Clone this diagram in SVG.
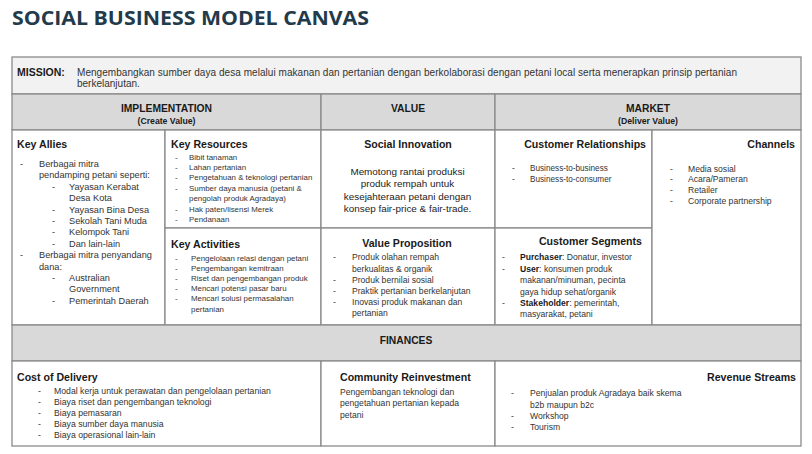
<svg xmlns="http://www.w3.org/2000/svg" width="812" height="454" viewBox="0 0 812 454">
<style>
text{font-family:'Liberation Sans',Arial,sans-serif;fill:#333}
.title{font-family:'Open Sans','Liberation Sans',sans-serif;font-weight:bold;font-size:20px;fill:#233a4b}
.cell{fill:#fff;stroke:#8a8a8a;stroke-width:1.3}
.grey{fill:#d9d9d9}
.light{fill:#f2f2f2}
.h{font-weight:bold;font-size:10.6px;fill:#1a1a1a}
.hd{font-weight:bold;font-size:10.3px;fill:#1a1a1a}
.sub{font-weight:bold;font-size:8.7px;fill:#1a1a1a}
.m{font-size:10px}
.mb{font-weight:bold;font-size:10.5px;fill:#1a1a1a}
.c{text-anchor:middle}
.e{text-anchor:end}
.ka{font-size:9.2px}
.kr{font-size:7.9px}
.si{font-size:9.9px;fill:#222}
.vp{font-size:8.6px}
.sm{font-size:8.2px}
.bt{font-size:8.7px}
</style>
<text class="title" x="12" y="25" textLength="357" lengthAdjust="spacingAndGlyphs">SOCIAL BUSINESS MODEL CANVAS</text>

<g id="mission">
<rect class="cell light" x="12" y="57" width="789" height="37"/>
<text class="mb" x="17" y="76">MISSION:</text>
<text class="m" x="77" y="75.5" textLength="660">Mengembangkan sumber daya desa melalui makanan dan pertanian dengan berkolaborasi dengan petani local serta menerapkan prinsip pertanian</text>
<text class="m" x="77" y="87">berkelanjutan.</text>
</g>

<g id="header-implementation">
<rect class="cell grey" x="12" y="94" width="309" height="36"/>
<text class="hd c" x="166.5" y="111.7">IMPLEMENTATION</text>
<text class="sub c" x="166.5" y="124">(Create Value)</text>
</g>
<g id="header-value">
<rect class="cell grey" x="321" y="94" width="174" height="36"/>
<text class="hd c" x="408" y="111.7">VALUE</text>
</g>
<g id="header-market">
<rect class="cell grey" x="495" y="94" width="306" height="36"/>
<text class="hd c" x="648" y="111.7">MARKET</text>
<text class="sub c" x="648" y="124">(Deliver Value)</text>
</g>

<g id="key-allies">
<rect class="cell" x="12" y="130" width="153" height="195"/>
<text class="h" x="17" y="148">Key Allies</text>
<text class="ka" x="20" y="167">-</text><text class="ka" x="39" y="167">Berbagai mitra</text>
<text class="ka" x="39" y="178.4">pendamping petani seperti:</text>
<text class="ka" x="52" y="189.8">-</text><text class="ka" x="69" y="189.8">Yayasan Kerabat</text>
<text class="ka" x="69" y="201.2">Desa Kota</text>
<text class="ka" x="52" y="212.6">-</text><text class="ka" x="69" y="212.6">Yayasan Bina Desa</text>
<text class="ka" x="52" y="224">-</text><text class="ka" x="69" y="224">Sekolah Tani Muda</text>
<text class="ka" x="52" y="235.4">-</text><text class="ka" x="69" y="235.4">Kelompok Tani</text>
<text class="ka" x="52" y="246.8">-</text><text class="ka" x="69" y="246.8">Dan lain-lain</text>
<text class="ka" x="20" y="258.2">-</text><text class="ka" x="39" y="258.2">Berbagai mitra penyandang</text>
<text class="ka" x="39" y="269.6">dana:</text>
<text class="ka" x="52" y="281">-</text><text class="ka" x="69" y="281">Australian</text>
<text class="ka" x="69" y="292.4">Government</text>
<text class="ka" x="52" y="303.8">-</text><text class="ka" x="69" y="303.8">Pemerintah Daerah</text>
</g>

<g id="key-resources">
<rect class="cell" x="165" y="130" width="156" height="98"/>
<text class="h" x="171" y="148">Key Resources</text>
<text class="kr" x="175" y="159.5">-</text><text class="kr" x="189" y="159.5">Bibit tanaman</text>
<text class="kr" x="175" y="170">-</text><text class="kr" x="189" y="170">Lahan pertanian</text>
<text class="kr" x="175" y="180.4">-</text><text class="kr" x="189" y="180.4">Pengetahuan &amp; teknologi pertanian</text>
<text class="kr" x="175" y="190.9">-</text><text class="kr" x="189" y="190.9">Sumber daya manusia (petani &amp;</text>
<text class="kr" x="189" y="201.3">pengolah produk Agradaya)</text>
<text class="kr" x="175" y="211.8">-</text><text class="kr" x="189" y="211.8">Hak paten/lisensi Merek</text>
<text class="kr" x="175" y="222.2">-</text><text class="kr" x="189" y="222.2">Pendanaan</text>
</g>

<g id="key-activities">
<rect class="cell" x="165" y="228" width="156" height="97"/>
<text class="h" x="171" y="248">Key Activities</text>
<text class="kr" x="175" y="261">-</text><text class="kr" x="191" y="261">Pengelolaan relasi dengan petani</text>
<text class="kr" x="175" y="271.1">-</text><text class="kr" x="191" y="271.1">Pengembangan kemitraan</text>
<text class="kr" x="175" y="281.2">-</text><text class="kr" x="191" y="281.2">Riset dan pengembangan produk</text>
<text class="kr" x="175" y="291.3">-</text><text class="kr" x="191" y="291.3">Mencari potensi pasar baru</text>
<text class="kr" x="175" y="301.4">-</text><text class="kr" x="191" y="301.4">Mencari solusi permasalahan</text>
<text class="kr" x="191" y="311.5">pertanian</text>
</g>

<g id="social-innovation">
<rect class="cell" x="321" y="130" width="174" height="98"/>
<text class="h c" x="408" y="148">Social Innovation</text>
<text class="si c" x="407.5" y="174.5">Memotong rantai produksi</text>
<text class="si c" x="407.5" y="187.1">produk rempah untuk</text>
<text class="si c" x="407.5" y="199.7">kesejahteraan petani dengan</text>
<text class="si c" x="407.5" y="212.3">konsep fair-price &amp; fair-trade.</text>
</g>

<g id="value-proposition">
<rect class="cell" x="321" y="228" width="174" height="97"/>
<text class="h c" x="407" y="247.3">Value Proposition</text>
<text class="vp" x="333" y="260.3">-</text><text class="vp" x="352" y="260.3">Produk olahan rempah</text>
<text class="vp" x="352" y="271.5">berkualitas &amp; organik</text>
<text class="vp" x="333" y="282.7">-</text><text class="vp" x="352" y="282.7">Produk bernilai sosial</text>
<text class="vp" x="333" y="293.9">-</text><text class="vp" x="352" y="293.9">Praktik pertanian berkelanjutan</text>
<text class="vp" x="333" y="305.1">-</text><text class="vp" x="352" y="305.1">Inovasi produk makanan dan</text>
<text class="vp" x="352" y="316.3">pertanian</text>
</g>

<g id="customer-relationships">
<rect class="cell" x="495" y="130" width="157" height="98"/>
<text class="h e" x="646" y="148">Customer Relationships</text>
<text class="sm" x="512" y="171">-</text><text class="sm" x="530" y="171">Business-to-business</text>
<text class="sm" x="512" y="182">-</text><text class="sm" x="530" y="182">Business-to-consumer</text>
</g>

<g id="customer-segments">
<rect class="cell" x="495" y="228" width="157" height="97"/>
<text class="h e" x="642" y="244.5">Customer Segments</text>
<text class="vp" x="502" y="260.3">-</text><text class="vp" x="520" y="260.3"><tspan font-weight="bold" fill="#1a1a1a">Purchaser</tspan>: Donatur, investor</text>
<text class="vp" x="502" y="271.7">-</text><text class="vp" x="520" y="271.7"><tspan font-weight="bold" fill="#1a1a1a">User</tspan>: konsumen produk</text>
<text class="vp" x="520" y="283.1">makanan/minuman, pecinta</text>
<text class="vp" x="520" y="294.5">gaya hidup sehat/organik</text>
<text class="vp" x="502" y="305.9">-</text><text class="vp" x="520" y="305.9"><tspan font-weight="bold" fill="#1a1a1a">Stakeholder</tspan>: pemerintah,</text>
<text class="vp" x="520" y="317.3">masyarakat, petani</text>
</g>

<g id="channels">
<rect class="cell" x="652" y="130" width="149" height="195"/>
<text class="h e" x="795" y="148">Channels</text>
<text class="vp" x="670" y="171.5">-</text><text class="vp" x="688" y="171.5">Media sosial</text>
<text class="vp" x="670" y="182.4">-</text><text class="vp" x="688" y="182.4">Acara/Pameran</text>
<text class="vp" x="670" y="193.3">-</text><text class="vp" x="688" y="193.3">Retailer</text>
<text class="vp" x="670" y="204.2">-</text><text class="vp" x="688" y="204.2">Corporate partnership</text>
</g>

<g id="finances">
<rect class="cell grey" x="12" y="325" width="789" height="36"/>
<text class="hd c" x="406" y="343.6">FINANCES</text>
</g>

<g id="cost-of-delivery">
<rect class="cell" x="12" y="361" width="309" height="85"/>
<text class="h" x="17" y="380.5">Cost of Delivery</text>
<text class="bt" x="38" y="393.7">-</text><text class="bt" x="54" y="393.7">Modal kerja untuk perawatan dan pengelolaan pertanian</text>
<text class="bt" x="38" y="404.7">-</text><text class="bt" x="54" y="404.7">Biaya riset dan pengembangan teknologi</text>
<text class="bt" x="38" y="415.7">-</text><text class="bt" x="54" y="415.7">Biaya pemasaran</text>
<text class="bt" x="38" y="426.7">-</text><text class="bt" x="54" y="426.7">Biaya sumber daya manusia</text>
<text class="bt" x="38" y="437.7">-</text><text class="bt" x="54" y="437.7">Biaya operasional lain-lain</text>
</g>

<g id="community-reinvestment">
<rect class="cell" x="321" y="361" width="174" height="85"/>
<text class="h" x="340" y="380.5">Community Reinvestment</text>
<text class="vp" x="340" y="394.5">Pengembangan teknologi dan</text>
<text class="vp" x="340" y="406">pengetahuan pertanian kepada</text>
<text class="vp" x="340" y="417.5">petani</text>
</g>

<g id="revenue-streams">
<rect class="cell" x="495" y="361" width="306" height="85"/>
<text class="h e" x="796" y="380.5">Revenue Streams</text>
<text class="vp" x="511" y="396.3">-</text><text class="vp" x="530" y="396.3">Penjualan produk Agradaya baik skema</text>
<text class="vp" x="530" y="407.5">b2b maupun b2c</text>
<text class="vp" x="511" y="418.7">-</text><text class="vp" x="530" y="418.7">Workshop</text>
<text class="vp" x="511" y="429.9">-</text><text class="vp" x="530" y="429.9">Tourism</text>
</g>
</svg>
